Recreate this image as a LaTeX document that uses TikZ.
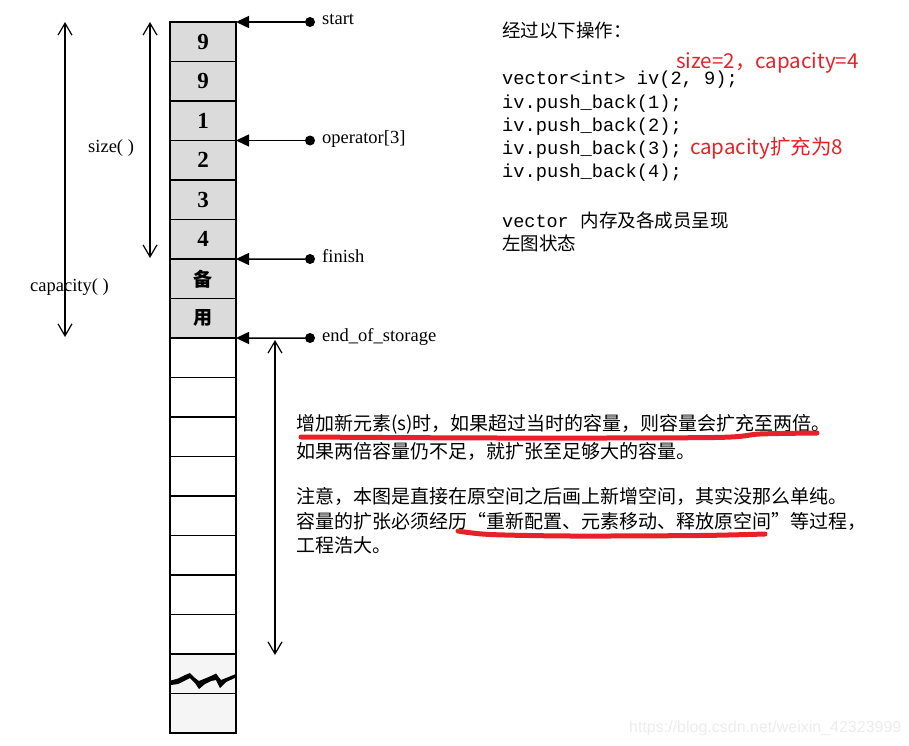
\documentclass[tikz,border=0pt]{standalone}
\usepackage{fontspec}
\setmainfont{Liberation Serif}
\newfontfamily\cjk{Noto Sans CJK SC}
\newfontfamily\code{Liberation Mono}
\newfontfamily\wm{Liberation Sans}
\usetikzlibrary{arrows.meta}
\definecolor{mark}{HTML}{E8202A}
\definecolor{shade}{gray}{0.86}
\begin{document}
\begin{tikzpicture}[x=1bp,y=-1bp,
  cell/.style={draw=black, line width=1.8bp, minimum width=66bp, minimum height=39.5bp,
               inner sep=0pt, outer sep=0pt, anchor=north west},
  digit/.style={font=\bfseries\fontsize{23bp}{23bp}\selectfont},
  cjkcell/.style={font=\cjk\bfseries\fontsize{19bp}{19bp}\selectfont},
  dot/.style={circle, fill=black, inner sep=0pt, minimum size=10bp},
  ptr/.style={line width=1.5bp, -{Triangle[length=13bp,width=12bp]}},
  dim/.style={line width=1.2bp, {Straight Barb[length=12bp,width=14bp]}-{Straight Barb[length=12bp,width=14bp]}},
  lbl/.style={font=\fontsize{18.5bp}{18.5bp}\selectfont, inner sep=0pt, anchor=base west},
  zh/.style={font=\cjk\fontsize{19bp}{19bp}\selectfont, inner sep=0pt, anchor=base west},
  zhs/.style={font=\cjk\fontsize{18.5bp}{18.5bp}\selectfont, inner sep=0pt, anchor=base west},
  codetxt/.style={font=\code\fontsize{18.7bp}{18.7bp}\selectfont, inner sep=0pt, anchor=base west},
  note/.style={font=\cjk\fontsize{20.5bp}{20.5bp}\selectfont, text=mark, inner sep=0pt, anchor=base west},
  redline/.style={draw=mark, line width=5bp, line cap=round, line join=round}
]
\path[use as bounding box, fill=white] (0,0) rectangle (909,746);

% ---- memory cells ----
\node[cell, fill=shade, digit] (c1) at (170,22) {9};
\node[cell, fill=shade, digit] (c2) at (170,61.5) {9};
\node[cell, fill=shade, digit] (c3) at (170,101) {1};
\node[cell, fill=shade, digit] (c4) at (170,140.5) {2};
\node[cell, fill=shade, digit] (c5) at (170,180) {3};
\node[cell, fill=shade, digit] (c6) at (170,219.5) {4};
\node[cell, fill=shade, cjkcell] (c7) at (170,259) {备};
\node[cell, fill=shade, cjkcell] (c8) at (170,298.5) {用};
\foreach \i in {9,...,16} {
  \node[cell] (c\i) at (170,{22+39.5*(\i-1)}) {};
}
\node[cell, fill=black!4] (c17) at (170,654) {};
\node[cell, fill=black!4] (c18) at (170,693.5) {};
\fill[black]
  (171,680.5) -- (178,678.5) -- (184,675.5) -- (190,673) -- (195,678) -- (199,681) -- (205,678.5)
  -- (211,676) -- (216,673.5) -- (221,680) -- (226,678) -- (236,674)
  -- (236,677.5) -- (226,682) -- (220,688) -- (216,680) -- (211,681) -- (205,684)
  -- (199,689) -- (195,683) -- (190,678) -- (184,681) -- (178,684) -- (171,685) -- cycle;

% ---- pointers ----
\node[dot] (dstart) at (310,22) {};
\node[dot] (dop) at (310,140.5) {};
\node[dot] (dfin) at (310,259) {};
\node[dot] (deos) at (310,338) {};
\node[lbl] (lstart) at (322,25) {start};
\node[lbl] (lop) at (322,143.5) {operator[3]};
\node[lbl] (lfin) at (322,262) {finish};
\node[lbl] (leos) at (322,341) {end\_of\_storage};
\draw[ptr] (dstart) -- (c1.north east);
\draw[ptr] (dop) -- (c4.north east);
\draw[ptr] (dfin) -- (c6.south east);
\draw[ptr] (deos) -- (c8.south east);

% ---- dimension arrows ----
\coordinate (stop) at (150,22);
\coordinate (sbot) at (150,258);
\coordinate (ctop) at (65,22);
\coordinate (cbot) at (65,337);
\coordinate (gtop) at (275,340);
\coordinate (gbot) at (275,655);
\draw[dim] (stop) -- (sbot);
\draw[dim] (ctop) -- (cbot);
\draw[dim] (gtop) -- (gbot);
\node[lbl] (lsize) at (88,152) {size( )};
\node[lbl] (lcap) at (30,291) {capacity( )};

% ---- right text ----
\node[zhs] (t0) at (502,38) {经过以下操作：};
\node[note] (n1) at (676,69) {size=2，capacity=4};
\node[codetxt] (k1) at (502,85) {vector<int> iv(2, 9);};
\node[codetxt] (k2) at (502,108) {iv.push\_back(1);};
\node[codetxt] (k3) at (502,131) {iv.push\_back(2);};
\node[codetxt] (k4) at (502,154) {iv.push\_back(3);};
\node[codetxt] (k5) at (502,177) {iv.push\_back(4);};
\node[note] (n2) at (690,154) {capacity扩充为8};
\node[zhs] (t1) at (502,227) {{\code vector}\hspace{12bp}内存及各成员呈现};
\node[zhs] (t2) at (502,250) {左图状态};

% ---- bottom text ----
\node[zh] (p1) at (296,430) {增加新元素(s)时，如果超过当时的容量，则容量会扩充至两倍。};
\node[zh] (p2) at (296,458) {如果两倍容量仍不足，就扩张至足够大的容量。};
\node[zh] (p3) at (296,503) {注意，本图是直接在原空间之后画上新增空间，其实没那么单纯。};
\node[zh] (p4) at (296,528) {容量的扩张必须经历“重新配置、元素移动、释放原空间”等过程，};
\node[zh] (p5) at (296,552) {工程浩大。};
\draw[redline] plot[smooth] coordinates {(301,437) (500,438) (714,437.5) (760,434) (817,433)};
\draw[redline] plot[smooth] coordinates {(458,531) (490,534.5) (571,536) (700,535.5) (765,534)};

% ---- watermark ----
\node[font=\wm\fontsize{16bp}{16bp}\selectfont, text=black!7, inner sep=0pt, anchor=base west] (wm) at (629,732) {https://blog.csdn.net/weixin\_42323999};
\end{tikzpicture}
\end{document}
